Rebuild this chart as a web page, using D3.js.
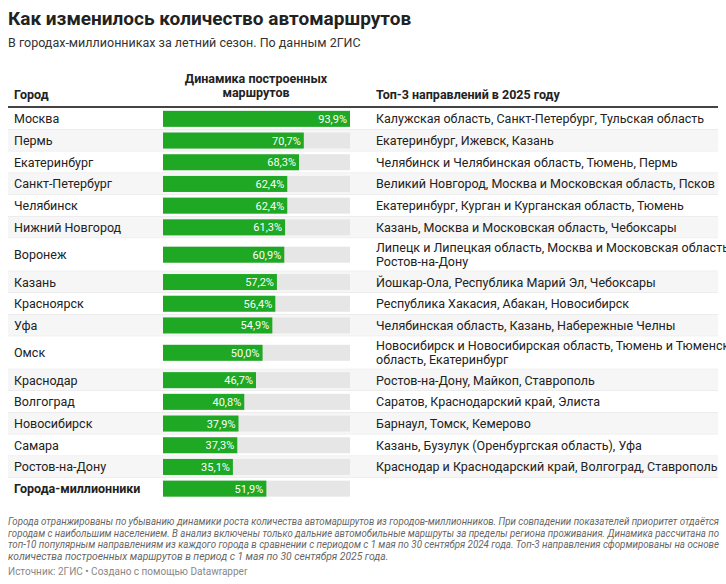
<!DOCTYPE html>
<html><head><meta charset="utf-8">
<script src="https://cdn.jsdelivr.net/npm/d3@7"></script>
<style>
body{margin:0;background:#fff;font-family:Roboto,sans-serif;}
</style></head>
<body><svg id="c" width="726" height="584"></svg>
<script>
const cities = ["Москва","Пермь","Екатеринбург","Санкт-Петербург","Челябинск","Нижний Новгород","Воронеж","Казань","Красноярск","Уфа","Омск","Краснодар","Волгоград","Новосибирск","Самара","Ростов-на-Дону","Города-миллионники"];
const growth = [93.9,70.7,68.3,62.4,62.4,61.3,60.9,57.2,56.4,54.9,50.0,46.7,40.8,37.9,37.3,35.1,51.9];
const top3 = [
  ["Калужская область, Санкт-Петербург, Тульская область"],
  ["Екатеринбург, Ижевск, Казань"],
  ["Челябинск и Челябинская область, Тюмень, Пермь"],
  ["Великий Новгород, Москва и Московская область, Псков"],
  ["Екатеринбург, Курган и Курганская область, Тюмень"],
  ["Казань, Москва и Московская область, Чебоксары"],
  ["Липецк и Липецкая область, Москва и Московская область,","Ростов-на-Дону"],
  ["Йошкар-Ола, Республика Марий Эл, Чебоксары"],
  ["Республика Хакасия, Абакан, Новосибирск"],
  ["Челябинская область, Казань, Набережные Челны"],
  ["Новосибирск и Новосибирская область, Тюмень и Тюменская","область, Екатеринбург"],
  ["Ростов-на-Дону, Майкоп, Ставрополь"],
  ["Саратов, Краснодарский край, Элиста"],
  ["Барнаул, Томск, Кемерово"],
  ["Казань, Бузулук (Оренбургская область), Уфа"],
  ["Краснодар и Краснодарский край, Волгоград, Ставрополь"],
  []
];

const svg = d3.select("#c");
svg.append("text").attr("x",8).attr("y",25).attr("font-size",19).attr("font-weight",700).attr("fill","#222")
  .text("Как изменилось количество автомаршрутов");
svg.append("text").attr("x",8).attr("y",47).attr("font-size",12.5).attr("fill","#333")
  .text("В городах-миллионниках за летний сезон. По данным 2ГИС");

// header
const hdr = svg.append("g").attr("font-size",12.5).attr("font-weight",700).attr("fill","#222");
hdr.append("text").attr("x",14).attr("y",99).text("Город");
hdr.append("text").attr("x",256).attr("y",83).attr("text-anchor","middle").text("Динамика построенных");
hdr.append("text").attr("x",256).attr("y",97).attr("text-anchor","middle").text("маршрутов");
hdr.append("text").attr("x",376).attr("y",99).text("Топ-3 направлений в 2025 году");
svg.append("line").attr("x1",8).attr("x2",718).attr("y1",107).attr("y2",107).attr("stroke","#444").attr("stroke-width",2);

// rows
let y = 108;
const rows = cities.map((c,i)=>{
  const h = top3[i].length>1 ? 33 : 21.7;
  const r = {c, v:growth[i], t:top3[i], y0:y, h};
  y += h; return r;
});
const x = d3.scaleLinear().domain([0, d3.max(growth)]).range([163,350]);

const g = svg.selectAll("g.row").data(rows).join("g").attr("class","row");
g.append("rect").attr("x",8).attr("width",710).attr("y",d=>d.y0).attr("height",d=>d.h)
  .attr("fill",(d,i)=>i%2? "#f6f6f6":"#fff");
g.filter((d,i)=>i<rows.length-1).append("line").attr("x1",8).attr("x2",718)
  .attr("y1",d=>d.y0+d.h).attr("y2",d=>d.y0+d.h).attr("stroke","#e4e4e4");
g.append("text").attr("x",14).attr("y",d=>d.y0+d.h/2+4.5).attr("font-size",12.5)
  .attr("font-weight",d=>d.c==="Города-миллионники"?700:400).attr("fill","#222").text(d=>d.c);
g.append("rect").attr("x",x(0)).attr("width",x(d3.max(growth))-x(0)).attr("y",d=>d.y0+d.h/2-8).attr("height",16).attr("fill","#e6e6e6");
g.append("rect").attr("x",x(0)).attr("width",d=>x(d.v)-x(0)).attr("y",d=>d.y0+d.h/2-8).attr("height",16).attr("fill","#1ea823");
g.append("text").attr("x",d=>x(d.v)-3).attr("y",d=>d.y0+d.h/2+4).attr("text-anchor","end")
  .attr("font-size",11).attr("fill","#fff").text(d=>d.v.toFixed(1).replace(".",",")+"%");
g.each(function(d){
  const n=d.t.length;
  d3.select(this).selectAll("text.t").data(d.t).join("text").attr("class","t")
    .attr("x",376).attr("font-size",12.5).attr("fill","#222")
    .attr("y",(s,j)=>d.y0+d.h/2+4.5+(j-(n-1)/2)*14).text(s=>s);
});

// notes
const notes = [
 "Города отранжированы по убыванию динамики роста количества автомаршрутов из городов-миллионников. При совпадении показателей приоритет отдаётся",
 "городам с наибольшим населением. В анализ включены только дальние автомобильные маршруты за пределы региона проживания. Динамика рассчитана по",
 "топ-10 популярным направлениям из каждого города в сравнении с периодом с 1 мая по 30 сентября 2024 года. Топ-3 направления сформированы на основе",
 "количества построенных маршрутов в период с 1 мая по 30 сентября 2025 года."];
svg.append("g").selectAll("text").data(notes).join("text").attr("x",8).attr("y",(d,i)=>525+i*11.5)
  .attr("font-size",10.3).attr("font-style","italic").attr("fill","#666")
  .each(function(d,i){ if(i<3) d3.select(this).attr("textLength",711).attr("lengthAdjust","spacingAndGlyphs"); })
  .text(d=>d);
svg.append("text").attr("x",8).attr("y",575).attr("font-size",10).attr("fill","#888")
  .text("Источник: 2ГИС • Создано с помощью Datawrapper");
</script></body></html>
